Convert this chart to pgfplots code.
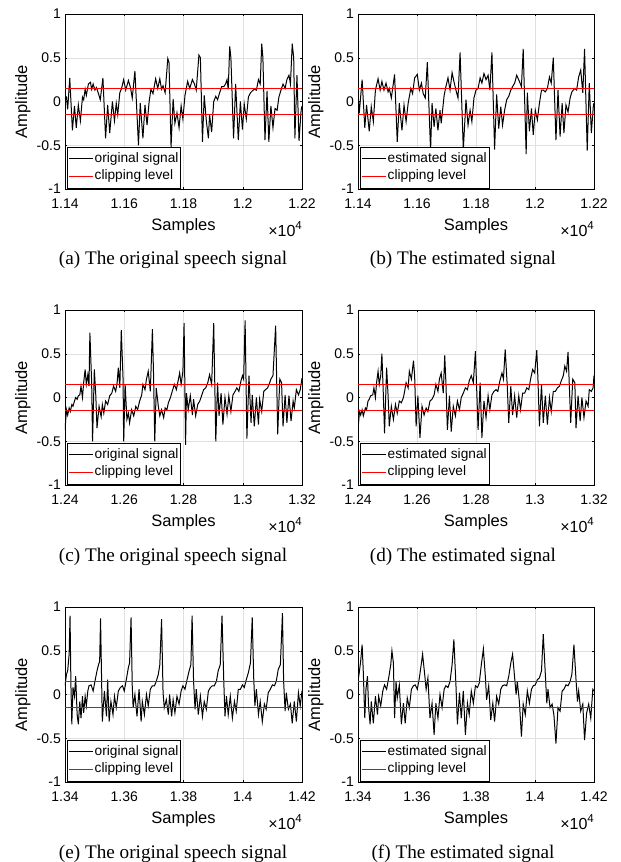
\documentclass[border=0pt]{standalone}
\usepackage{pgfplots}
\pgfplotsset{compat=1.18}
\usepackage{fontspec}
\setmainfont{Liberation Serif}
\newfontfamily\axf{Liberation Sans}
\definecolor{gridgray}{rgb}{0.88,0.88,0.88}
\definecolor{clipred}{rgb}{1,0,0}

\pgfplotsset{
 sub/.style={
  scale only axis, height=175pt, ymin=-1, ymax=1,
  ytick={-1,-0.5,0,0.5,1}, yticklabels={-1,-0.5,0,0.5,1},
  scaled x ticks=false,
  grid=major, grid style={draw=gridgray, line width=0.5pt},
  axis line style={line width=0.6pt},
  tick align=inside, major tick length=2.4pt,
  every tick/.style={line width=0.5pt},
  ticklabel style={font=\axf\fontsize{14}{16}\selectfont, inner sep=0pt},
  xticklabel style={anchor=base, yshift=-19pt},
  yticklabel style={anchor=east, xshift=-4pt},
  xlabel={Samples}, ylabel={Amplitude},
  label style={font=\axf\fontsize{16.5}{18}\selectfont, inner sep=0pt},
  xlabel style={at={(axis description cs:0.5,-0.2343)}, anchor=base},
  ylabel style={at={(axis description cs:-0.16,0.5)}, anchor=base},
  legend cell align=left,
  legend style={at={(axis description cs:0,0)}, anchor=south west, xshift=1.7pt, yshift=0.8pt,
    draw, line width=0.6pt, fill=white, font=\axf\fontsize{13.7}{16}\selectfont,
    inner xsep=1pt, inner ysep=3pt, row sep=0pt,
    nodes={inner xsep=1.2pt, inner ysep=2pt, text height=10.3pt, text depth=3pt}},
  legend image code/.code={\draw[#1] (0pt,0pt) -- (24pt,0pt);},
 },
}
\newcommand{\tenfour}{\axf\fontsize{16}{18}\selectfont ×10\raisebox{6.5pt}{\fontsize{11.5}{12}\selectfont 4}}
\newcommand{\capf}{\fontsize{19.2}{22}\selectfont}

\begin{document}
\begin{tikzpicture}
\path[use as bounding box] (0,0) rectangle (621pt,-862pt);

% (a)
\begin{axis}[sub, name=A, at={(65pt,-189pt)}, anchor=south west, width=237pt,
  xmin=11400, xmax=12200, xtick={11400,11600,11800,12000,12200}, xticklabels={1.14,1.16,1.18,1.2,1.22}]
\addplot[black, line width=1pt] coordinates {(11400,0.03)(11405,0.05)(11409,-0.09)(11416,0.27)(11425,-0.33)(11432,-0.05)(11438,-0.30)(11445,-0.04)(11452,-0.22)(11459,0.05)(11463,0.02)(11468,0.14)(11472,0.07)(11479,0.20)(11486,0.22)(11490,0.14)(11495,0.20)(11501,0.13)(11506,0.16)(11513,0.09)(11519,0.02)(11528,0.27)(11537,-0.42)(11544,-0.04)(11551,-0.36)(11560,0.00)(11567,-0.22)(11573,-0.02)(11578,-0.15)(11585,0.10)(11591,0.15)(11598,0.25)(11605,0.13)(11614,0.24)(11621,0.16)(11627,0.04)(11636,0.35)(11648,-0.50)(11654,-0.02)(11663,-0.42)(11670,-0.04)(11677,-0.27)(11684,0.00)(11690,0.14)(11697,0.09)(11706,0.26)(11713,0.15)(11720,0.26)(11726,0.14)(11731,0.18)(11738,0.10)(11747,0.49)(11751,0.45)(11758,-0.52)(11765,0.03)(11771,-0.25)(11778,-0.13)(11785,-0.30)(11792,-0.05)(11798,-0.20)(11805,0.07)(11814,0.23)(11821,0.15)(11830,0.25)(11837,0.20)(11843,0.13)(11852,0.53)(11857,0.50)(11864,-0.46)(11870,0.07)(11877,-0.22)(11884,-0.42)(11888,-0.15)(11895,-0.35)(11902,0.00)(11909,0.06)(11915,0.02)(11922,0.10)(11929,0.17)(11936,0.17)(11942,0.20)(11947,0.25)(11951,0.14)(11956,0.63)(11960,0.50)(11969,-0.42)(11976,0.20)(11985,-0.44)(11992,0.00)(11999,-0.32)(12005,-0.03)(12012,-0.20)(12019,0.05)(12026,0.10)(12032,0.12)(12039,0.14)(12046,0.13)(12053,0.25)(12059,0.20)(12064,0.66)(12068,0.50)(12075,-0.44)(12082,0.12)(12088,-0.46)(12095,-0.05)(12102,-0.30)(12109,-0.08)(12116,-0.10)(12122,0.05)(12129,0.13)(12136,0.20)(12143,0.15)(12149,0.25)(12156,0.30)(12161,0.20)(12167,0.66)(12172,0.50)(12176,-0.42)(12183,0.30)(12190,-0.45)(12197,-0.10)(12200,-0.05)};
\addlegendentry{original signal}
\addplot[clipred, line width=1.5pt] coordinates {(11400,0.15)(12200,0.15)};
\addlegendentry{clipping level}
\addplot[clipred, line width=1.5pt, forget plot] coordinates {(11400,-0.15)(12200,-0.15)};
\end{axis}

% (b)
\begin{axis}[sub, name=B, at={(358pt,-189pt)}, anchor=south west, width=236pt,
  xmin=11400, xmax=12200, xtick={11400,11600,11800,12000,12200}, xticklabels={1.14,1.16,1.18,1.2,1.22}]
\addplot[black, line width=1pt] coordinates {(11400,0.04)(11405,-0.10)(11414,0.25)(11423,-0.30)(11429,-0.04)(11438,-0.34)(11445,-0.06)(11452,-0.23)(11459,0.13)(11468,0.26)(11475,0.13)(11481,0.23)(11488,0.13)(11495,0.21)(11502,0.11)(11506,0.15)(11513,0.04)(11524,0.31)(11533,-0.46)(11540,-0.02)(11549,-0.33)(11556,-0.04)(11563,-0.23)(11570,-0.02)(11579,0.15)(11585,0.09)(11592,0.27)(11601,0.31)(11608,0.13)(11615,0.21)(11621,0.09)(11628,0.04)(11635,0.45)(11646,-0.56)(11651,-0.02)(11658,-0.29)(11664,-0.08)(11671,-0.33)(11678,-0.10)(11682,-0.25)(11692,0.07)(11698,0.17)(11705,0.27)(11712,0.13)(11719,0.33)(11725,0.23)(11732,0.13)(11739,0.04)(11746,0.56)(11757,-0.55)(11766,0.02)(11773,-0.27)(11780,-0.10)(11786,-0.23)(11793,0.04)(11800,0.13)(11807,0.15)(11814,0.27)(11820,0.21)(11827,0.32)(11834,0.25)(11841,0.30)(11847,0.13)(11854,0.56)(11863,-0.55)(11870,0.08)(11877,-0.31)(11884,-0.06)(11890,-0.27)(11897,-0.10)(11904,0.02)(11911,0.06)(11918,0.13)(11924,0.17)(11931,0.21)(11938,0.30)(11947,0.23)(11954,0.17)(11960,0.60)(11970,-0.60)(11974,0.10)(11981,-0.34)(11988,-0.08)(11994,-0.38)(12001,-0.10)(12008,-0.21)(12015,-0.02)(12022,0.13)(12028,0.13)(12035,0.11)(12042,0.15)(12049,0.28)(12055,0.21)(12062,0.50)(12071,-0.44)(12078,0.13)(12085,-0.40)(12092,-0.02)(12098,-0.36)(12105,-0.04)(12112,-0.12)(12119,0.04)(12125,0.11)(12135,0.15)(12141,0.13)(12148,0.28)(12155,0.36)(12162,0.10)(12168,0.60)(12177,-0.56)(12184,0.21)(12191,-0.36)(12198,-0.04)(12200,-0.02)};
\addlegendentry{estimated signal}
\addplot[clipred, line width=1.5pt] coordinates {(11400,0.15)(12200,0.15)};
\addlegendentry{clipping level}
\addplot[clipred, line width=1.5pt, forget plot] coordinates {(11400,-0.15)(12200,-0.15)};
\end{axis}

% (c)
\begin{axis}[sub, name=C, at={(65pt,-485pt)}, anchor=south west, width=237pt,
  xmin=12400, xmax=13200, xtick={12400,12600,12800,13000,13200}, xticklabels={1.24,1.26,1.28,1.3,1.32}]
\addplot[black, line width=1pt] coordinates {(12400,-0.37)(12405,-0.14)(12409,-0.20)(12414,-0.12)(12418,-0.16)(12423,-0.08)(12427,-0.10)(12432,-0.04)(12436,0.00)(12441,-0.02)(12445,0.02)(12450,0.03)(12454,0.13)(12459,0.00)(12463,0.17)(12468,0.32)(12472,0.15)(12477,0.26)(12481,0.13)(12484,0.74)(12490,0.17)(12493,-0.50)(12499,0.32)(12504,0.02)(12508,-0.35)(12515,-0.10)(12522,-0.22)(12526,-0.08)(12531,-0.18)(12537,-0.04)(12544,-0.08)(12551,0.02)(12558,0.05)(12564,0.13)(12571,0.07)(12576,0.17)(12580,0.34)(12585,0.11)(12590,0.77)(12596,0.21)(12598,-0.50)(12603,0.15)(12609,-0.25)(12614,-0.18)(12618,-0.29)(12625,-0.14)(12632,-0.21)(12639,-0.10)(12645,-0.14)(12652,-0.04)(12659,0.03)(12663,0.15)(12670,0.09)(12675,0.21)(12681,0.30)(12688,0.07)(12695,0.78)(12699,0.25)(12703,-0.50)(12708,0.11)(12715,-0.10)(12720,-0.21)(12726,-0.14)(12733,-0.23)(12738,-0.12)(12744,-0.14)(12749,-0.06)(12756,0.00)(12762,0.07)(12769,0.15)(12776,0.09)(12783,0.21)(12787,0.28)(12792,0.15)(12798,0.30)(12802,0.85)(12807,-0.54)(12810,0.05)(12816,-0.14)(12823,0.02)(12830,-0.20)(12834,-0.02)(12841,-0.21)(12848,-0.08)(12855,-0.04)(12861,0.02)(12868,0.09)(12875,0.11)(12882,0.17)(12888,0.26)(12895,0.15)(12902,0.85)(12909,-0.50)(12915,0.17)(12920,-0.21)(12927,0.05)(12933,-0.31)(12940,0.00)(12947,-0.19)(12953,0.02)(12960,-0.16)(12967,0.03)(12974,0.07)(12980,0.11)(12987,0.07)(12994,0.19)(12999,0.25)(13003,0.21)(13008,0.88)(13014,-0.47)(13021,0.25)(13028,-0.29)(13032,0.03)(13039,-0.33)(13046,0.00)(13053,-0.31)(13057,-0.02)(13064,-0.16)(13071,0.07)(13077,0.09)(13084,0.11)(13091,0.17)(13095,0.21)(13102,0.25)(13111,0.82)(13118,-0.42)(13125,0.21)(13131,0.17)(13136,-0.33)(13143,0.03)(13149,-0.29)(13156,0.02)(13163,-0.27)(13170,-0.04)(13174,-0.12)(13181,0.09)(13188,0.03)(13194,0.09)(13200,0.22)};
\addlegendentry{original signal}
\addplot[clipred, line width=1.5pt] coordinates {(12400,0.15)(13200,0.15)};
\addlegendentry{clipping level}
\addplot[clipred, line width=1.5pt, forget plot] coordinates {(12400,-0.15)(13200,-0.15)};
\end{axis}

% (d)
\begin{axis}[sub, name=D, at={(358pt,-485pt)}, anchor=south west, width=236pt,
  xmin=12400, xmax=13200, xtick={12400,12600,12800,13000,13200}, xticklabels={1.24,1.26,1.28,1.3,1.32}]
\addplot[black, line width=1pt] coordinates {(12400,-0.37)(12405,-0.16)(12409,-0.20)(12414,-0.14)(12418,-0.21)(12425,-0.12)(12429,-0.14)(12434,-0.04)(12438,-0.02)(12443,0.02)(12450,0.03)(12454,0.11)(12459,0.00)(12463,0.17)(12468,0.30)(12472,0.15)(12477,0.25)(12481,0.50)(12486,0.02)(12490,-0.41)(12497,0.34)(12502,0.02)(12506,-0.33)(12513,-0.10)(12520,-0.25)(12527,-0.08)(12533,-0.18)(12540,-0.04)(12547,-0.06)(12554,0.00)(12558,0.07)(12563,0.17)(12570,0.11)(12574,0.30)(12581,0.21)(12588,0.42)(12592,0.25)(12597,-0.33)(12603,0.02)(12610,-0.46)(12617,-0.10)(12624,-0.20)(12631,-0.12)(12637,-0.16)(12644,-0.04)(12651,-0.02)(12658,0.03)(12664,0.15)(12671,0.07)(12676,0.21)(12682,0.28)(12689,0.05)(12694,0.48)(12698,0.17)(12703,-0.37)(12710,0.02)(12716,-0.39)(12723,-0.10)(12730,-0.21)(12737,-0.04)(12744,-0.14)(12750,0.00)(12757,0.05)(12764,0.11)(12771,0.09)(12777,0.19)(12784,0.25)(12791,0.17)(12798,0.53)(12802,0.13)(12807,-0.37)(12814,0.17)(12820,-0.46)(12827,-0.04)(12834,-0.23)(12841,0.02)(12847,-0.14)(12854,0.03)(12861,0.07)(12868,0.09)(12874,0.07)(12881,0.19)(12888,0.28)(12893,0.21)(12899,0.55)(12906,0.13)(12911,-0.29)(12918,0.13)(12924,-0.20)(12931,0.02)(12938,-0.23)(12945,0.02)(12951,-0.14)(12958,0.05)(12965,0.05)(12972,0.11)(12979,0.09)(12985,0.21)(12992,0.32)(12999,0.28)(13006,0.54)(13010,0.21)(13015,-0.33)(13022,0.15)(13028,-0.29)(13035,0.02)(13042,-0.31)(13049,0.00)(13055,-0.16)(13062,0.07)(13069,0.07)(13076,0.11)(13083,0.13)(13089,0.19)(13096,0.25)(13101,0.36)(13107,0.30)(13112,0.52)(13116,0.17)(13121,-0.29)(13128,0.21)(13135,0.17)(13139,-0.35)(13146,0.02)(13153,-0.27)(13159,0.00)(13166,-0.23)(13173,-0.04)(13180,-0.10)(13184,0.09)(13191,0.07)(13197,0.11)(13200,0.25)};
\addlegendentry{estimated signal}
\addplot[clipred, line width=1.5pt] coordinates {(12400,0.15)(13200,0.15)};
\addlegendentry{clipping level}
\addplot[clipred, line width=1.5pt, forget plot] coordinates {(12400,-0.15)(13200,-0.15)};
\end{axis}

% (e)
\begin{axis}[sub, name=E, at={(65pt,-782pt)}, anchor=south west, width=237pt,
  xmin=13400, xmax=14200, xtick={13400,13600,13800,14000,14200}, xticklabels={1.34,1.36,1.38,1.4,1.42}]
\addplot[black, line width=1pt] coordinates {(13400,0.10)(13405,0.23)(13409,0.27)(13414,0.46)(13417,0.90)(13420,0.11)(13423,-0.34)(13427,0.08)(13432,-0.02)(13436,0.21)(13441,-0.23)(13445,-0.34)(13450,-0.08)(13454,-0.27)(13459,-0.02)(13463,-0.21)(13468,-0.02)(13472,-0.13)(13477,0.04)(13481,0.10)(13488,0.11)(13495,0.04)(13501,0.15)(13508,0.27)(13513,0.34)(13517,0.38)(13520,0.87)(13524,0.08)(13526,-0.31)(13533,0.04)(13540,-0.25)(13544,0.17)(13549,-0.31)(13555,-0.08)(13562,-0.23)(13567,-0.02)(13573,-0.15)(13580,0.04)(13587,0.08)(13594,0.10)(13600,0.04)(13607,0.17)(13614,0.31)(13618,0.36)(13623,0.88)(13627,0.10)(13630,-0.15)(13636,0.00)(13643,-0.25)(13650,0.06)(13657,-0.31)(13661,-0.08)(13668,-0.23)(13675,0.00)(13681,-0.13)(13688,0.06)(13695,0.10)(13702,0.10)(13708,0.15)(13715,0.23)(13720,0.34)(13726,0.86)(13731,0.02)(13735,-0.15)(13742,-0.06)(13749,-0.23)(13753,0.00)(13760,-0.25)(13765,-0.06)(13771,-0.21)(13778,-0.02)(13785,-0.11)(13792,0.04)(13798,0.10)(13805,0.06)(13812,0.17)(13819,0.27)(13825,0.34)(13829,0.90)(13834,0.15)(13839,-0.17)(13843,0.06)(13850,-0.23)(13857,-0.02)(13864,-0.25)(13870,-0.08)(13877,-0.17)(13884,0.04)(13891,0.08)(13897,0.10)(13904,0.10)(13911,0.15)(13917,0.27)(13924,0.34)(13930,0.90)(13936,0.15)(13940,-0.25)(13945,-0.02)(13951,-0.23)(13958,-0.02)(13965,-0.27)(13972,-0.08)(13978,-0.19)(13985,0.06)(13992,0.06)(13999,0.11)(14005,0.08)(14012,0.17)(14019,0.25)(14026,0.36)(14032,0.88)(14037,0.19)(14041,-0.13)(14046,0.06)(14053,-0.23)(14059,-0.08)(14066,-0.31)(14073,-0.11)(14079,-0.17)(14086,0.02)(14093,0.06)(14100,0.11)(14107,0.10)(14113,0.15)(14120,0.29)(14127,0.34)(14134,0.93)(14138,0.15)(14143,-0.19)(14147,0.02)(14154,-0.17)(14161,-0.11)(14167,-0.33)(14174,-0.08)(14181,-0.31)(14188,0.02)(14194,-0.13)(14200,0.04)};
\addlegendentry{original signal}
\addplot[clipred, line width=1.5pt] coordinates {(13400,0.15)(14200,0.15)};
\addlegendentry{clipping level}
\addplot[clipred, line width=1.5pt, forget plot] coordinates {(13400,-0.15)(14200,-0.15)};
\end{axis}

% (f)
\begin{axis}[sub, name=F, at={(358pt,-782pt)}, anchor=south west, width=236pt,
  xmin=13400, xmax=14200, xtick={13400,13600,13800,14000,14200}, xticklabels={1.34,1.36,1.38,1.4,1.42}]
\addplot[black, line width=1pt] coordinates {(13400,0.15)(13405,0.27)(13409,0.38)(13414,0.57)(13418,0.25)(13423,-0.27)(13427,0.06)(13432,0.21)(13436,-0.15)(13441,-0.34)(13445,-0.08)(13452,-0.33)(13459,-0.02)(13466,-0.23)(13470,-0.02)(13477,-0.13)(13484,0.04)(13490,0.11)(13497,0.06)(13504,0.19)(13511,0.34)(13515,0.50)(13520,0.36)(13524,-0.27)(13529,0.15)(13533,-0.04)(13540,0.11)(13547,-0.34)(13554,-0.10)(13560,-0.33)(13567,-0.04)(13574,-0.15)(13581,0.06)(13588,0.10)(13594,0.11)(13601,0.06)(13608,0.19)(13615,0.36)(13619,0.46)(13626,0.23)(13631,0.06)(13637,0.19)(13644,-0.27)(13651,-0.10)(13658,-0.46)(13664,-0.10)(13671,-0.27)(13678,0.00)(13685,-0.15)(13692,0.06)(13698,0.10)(13705,0.08)(13712,0.15)(13719,0.34)(13725,0.63)(13732,0.11)(13737,-0.34)(13744,0.02)(13750,-0.27)(13757,0.04)(13764,-0.46)(13771,-0.10)(13777,-0.23)(13784,0.04)(13791,-0.10)(13798,0.10)(13805,0.08)(13811,0.13)(13818,0.34)(13825,0.52)(13832,0.19)(13836,-0.06)(13843,0.10)(13850,-0.29)(13857,-0.10)(13863,-0.31)(13870,-0.02)(13877,-0.11)(13884,0.06)(13890,0.10)(13897,0.11)(13904,0.10)(13911,0.21)(13918,0.36)(13924,0.46)(13931,0.19)(13936,0.00)(13940,0.15)(13947,-0.08)(13954,-0.48)(13960,-0.11)(13967,-0.23)(13974,0.04)(13981,-0.10)(13988,0.06)(13994,0.10)(14001,0.11)(14008,0.17)(14015,0.19)(14022,0.27)(14028,0.69)(14035,0.23)(14040,-0.10)(14044,0.06)(14051,-0.15)(14058,-0.11)(14064,-0.23)(14071,-0.56)(14078,-0.15)(14085,-0.19)(14092,0.04)(14098,0.06)(14105,0.11)(14112,0.10)(14119,0.15)(14125,0.23)(14132,0.57)(14139,0.17)(14144,-0.08)(14148,0.04)(14155,-0.19)(14162,-0.11)(14168,-0.52)(14175,-0.21)(14182,-0.11)(14189,-0.27)(14196,0.06)(14200,0.04)};
\addlegendentry{estimated signal}
\addplot[clipred, line width=1.5pt] coordinates {(13400,0.15)(14200,0.15)};
\addlegendentry{clipping level}
\addplot[clipred, line width=1.5pt, forget plot] coordinates {(13400,-0.15)(14200,-0.15)};
\end{axis}

\node[anchor=base east, inner sep=0pt] at ([yshift=-47pt]A.south east) {\tenfour};
\node[anchor=base east, inner sep=0pt] at ([yshift=-47pt]B.south east) {\tenfour};
\node[anchor=base east, inner sep=0pt] at ([yshift=-47pt]C.south east) {\tenfour};
\node[anchor=base east, inner sep=0pt] at ([yshift=-47pt]D.south east) {\tenfour};
\node[anchor=base east, inner sep=0pt] at ([yshift=-47pt]E.south east) {\tenfour};
\node[anchor=base east, inner sep=0pt] at ([yshift=-47pt]F.south east) {\tenfour};
\node[anchor=base, inner sep=0pt] at (173pt,-264pt) {\capf (a) The original speech signal};
\node[anchor=base, inner sep=0pt] at (463pt,-264pt) {\capf (b) The estimated signal};
\node[anchor=base, inner sep=0pt] at (173pt,-561pt) {\capf (c) The original speech signal};
\node[anchor=base, inner sep=0pt] at (463pt,-561pt) {\capf (d) The estimated signal};
\node[anchor=base, inner sep=0pt] at (173pt,-858pt) {\capf (e) The original speech signal};
\node[anchor=base, inner sep=0pt] at (463pt,-858pt) {\capf (f) The estimated signal};
\end{tikzpicture}
\end{document}
